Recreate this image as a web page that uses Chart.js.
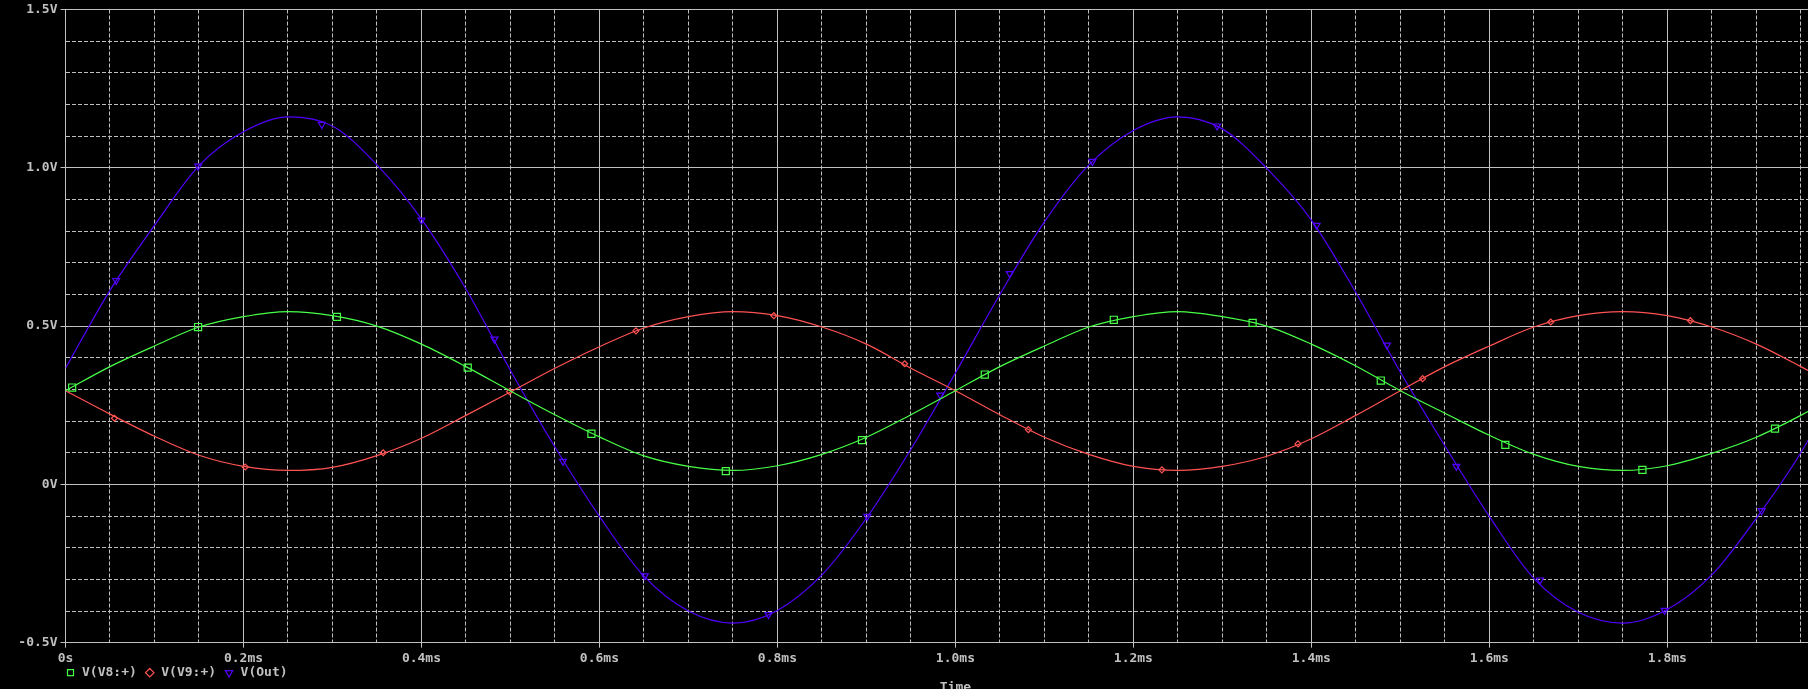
<!DOCTYPE html>
<html>
<head>
<meta charset="utf-8">
<script src="https://cdn.jsdelivr.net/npm/chart.js@4"></script>
<style>
  html, body { margin: 0; padding: 0; background: #000; overflow: hidden; }
  canvas { display: block; }
</style>
</head>
<body>
<canvas id="probe-chart" width="1870" height="726"></canvas>
<script>
// sample times (ms) the curves were read at
const TIME = [0, 0.05, 0.1, 0.15, 0.2, 0.25, 0.3, 0.35, 0.4, 0.45, 0.5,
    0.55, 0.6, 0.65, 0.7, 0.75, 0.8, 0.85, 0.9, 0.95, 1.0,
    1.05, 1.1, 1.15, 1.2, 1.25, 1.3, 1.35, 1.4, 1.45, 1.5,
    1.55, 1.6, 1.65, 1.7, 1.75, 1.8, 1.85, 1.9, 1.95, 2.0];

const V8 = [0.296, 0.372, 0.437, 0.497, 0.530, 0.546, 0.533, 0.500, 0.443, 0.372, 0.295,
    0.220, 0.150, 0.090, 0.057, 0.044, 0.059, 0.095, 0.149, 0.220, 0.296,
    0.372, 0.437, 0.497, 0.530, 0.546, 0.530, 0.500, 0.443, 0.374, 0.296,
    0.225, 0.155, 0.095, 0.057, 0.044, 0.059, 0.098, 0.149, 0.218, 0.296];

const V9 = [0.296, 0.222, 0.152, 0.092, 0.057, 0.044, 0.054, 0.091, 0.146, 0.218, 0.292,
    0.367, 0.435, 0.494, 0.530, 0.546, 0.533, 0.497, 0.443, 0.367, 0.296,
    0.220, 0.149, 0.095, 0.057, 0.044, 0.057, 0.089, 0.144, 0.218, 0.296,
    0.372, 0.437, 0.497, 0.533, 0.546, 0.533, 0.497, 0.443, 0.372, 0.296];

const VOUT = [0.367, 0.613, 0.818, 1.007, 1.114, 1.161, 1.132, 1.009, 0.838, 0.617, 0.360,
    0.118, -0.101, -0.290, -0.400, -0.438, -0.398, -0.286, -0.107, 0.111, 0.352,
    0.600, 0.829, 1.009, 1.118, 1.161, 1.123, 0.998, 0.835, 0.606, 0.355,
    0.122, -0.101, -0.297, -0.404, -0.438, -0.395, -0.286, -0.107, 0.100, 0.355];

// marker positions (ms, V) as plotted on each trace
const V8_MARK_T = [0.0075, 0.149, 0.305, 0.452, 0.591, 0.742, 0.895, 1.033, 1.178, 1.334, 1.478, 1.618, 1.772, 1.921];
const V8_MARK_V = [0.306, 0.497, 0.529, 0.369, 0.160, 0.042, 0.140, 0.347, 0.520, 0.510, 0.328, 0.125, 0.046, 0.176];

const V9_MARK_T = [0.055, 0.202, 0.357, 0.499, 0.641, 0.796, 0.943, 1.082, 1.232, 1.385, 1.525, 1.669, 1.826];
const V9_MARK_V = [0.209, 0.055, 0.100, 0.293, 0.485, 0.533, 0.381, 0.173, 0.046, 0.128, 0.334, 0.513, 0.517];

const VOUT_MARK_T = [0.057, 0.149, 0.288, 0.400, 0.482, 0.559, 0.651, 0.790, 0.901, 0.983,
    1.061, 1.154, 1.294, 1.406, 1.485, 1.563, 1.657, 1.797, 1.906];
const VOUT_MARK_V = [0.644, 1.005, 1.137, 0.835, 0.459, 0.073, -0.289, -0.411, -0.101, 0.282,
    0.666, 1.020, 1.132, 0.818, 0.440, 0.057, -0.302, -0.398, -0.083];

const LABELS = ['V(V8:+)', 'V(V9:+)', 'V(Out)'];
const COLORS = ['rgb(72,255,72)', 'rgb(255,82,82)', 'rgb(84,0,255)'];

const GRID = 'rgb(192,192,192)';
const FONT = {family: "'DejaVu Sans Mono', monospace", size: 13, weight: 'bold', lineHeight: 1};
const NONE = 'rgba(0,0,0,0)';

function toPoints(xs, ys) {
    return xs.map((x, i) => ({x: x, y: ys[i]}));
}

function isMultiple(v, step) {
    const r = v / step;
    return Math.abs(r - Math.round(r)) < 1e-6;
}

function lineDataset(label, color, data, style, rotation) {
    return {
        label: label,
        data: data,
        borderColor: color,
        backgroundColor: NONE,
        borderWidth: 1.2,
        pointRadius: 0,
        pointStyle: style,
        pointRotation: rotation,
        cubicInterpolationMode: 'monotone',
    };
}

function markerDataset(color, data, style, rotation, radius) {
    return {
        data: data,
        showLine: false,
        borderColor: color,
        backgroundColor: NONE,
        pointStyle: style,
        pointRotation: rotation,
        pointRadius: radius,
        pointBorderWidth: 1.2,
    };
}

// the legend row sits between the tick labels and the axis title in the original
const legendOffset = {
    id: 'legendOffset',
    beforeDraw(chart) {
        const legend = chart.legend;
        legend.left = 57.5;
        legend.top = 658.2;
        legend.bottom = legend.top + legend.height;
    }
};

function createProbeChart() {
    const datasets = [
        lineDataset(LABELS[0], COLORS[0], toPoints(TIME, V8), 'rect', 0),
        lineDataset(LABELS[1], COLORS[1], toPoints(TIME, V9), 'rectRot', 0),
        lineDataset(LABELS[2], COLORS[2], toPoints(TIME, VOUT), 'triangle', 180),
        markerDataset(COLORS[0], toPoints(V8_MARK_T, V8_MARK_V), 'rect', 0, 5),
        markerDataset(COLORS[1], toPoints(V9_MARK_T, V9_MARK_V), 'rectRot', 0, 3),
        markerDataset(COLORS[2], toPoints(VOUT_MARK_T, VOUT_MARK_V), 'triangle', 180, 4),
    ];

    new Chart(document.getElementById('probe-chart'), {
        type: 'line',
        data: {datasets: datasets},
        plugins: [legendOffset],
        options: {
            responsive: false,
            animation: false,
            devicePixelRatio: 1,
            events: [],
            layout: {padding: {top: 7, right: 24.7, left: 0, bottom: 0}},
            scales: {
                x: {
                    type: 'linear',
                    position: 'bottom',
                    min: 0,
                    max: 2.0,
                    afterFit: (scale) => { scale.height = 52.3; },
                    title: {
                        display: true,
                        text: 'Time',
                        color: GRID,
                        font: {family: FONT.family, size: 13, weight: 'bold', lineHeight: 1.2},
                        padding: 0,
                    },
                    ticks: {
                        stepSize: 0.2,
                        padding: 4,
                        color: GRID,
                        font: FONT,
                        maxRotation: 0,
                        callback: (v) => v === 0 ? '0s' : v.toFixed(1) + 'ms',
                    },
                    grid: {color: GRID, lineWidth: 1, tickLength: 5, tickColor: GRID},
                    border: {color: GRID},
                },
                xMinor: {
                    type: 'linear',
                    position: 'bottom',
                    min: 0,
                    max: 2.0,
                    afterFit: (scale) => { scale.height = 0; },
                    ticks: {stepSize: 0.05, display: false},
                    grid: {
                        drawTicks: false,
                        color: (ctx) => isMultiple(ctx.tick.value, 0.2) ? NONE : GRID,
                    },
                    border: {display: false, dash: [4, 2]},
                },
                y: {
                    type: 'linear',
                    position: 'left',
                    min: -0.5,
                    max: 1.5,
                    afterFit: (scale) => { scale.width = 65.5; },
                    ticks: {
                        stepSize: 0.5,
                        padding: 3,
                        color: GRID,
                        font: FONT,
                        callback: (v) => v === 0 ? '0V' : v.toFixed(1) + 'V',
                    },
                    grid: {color: GRID, lineWidth: 1, tickLength: 5, tickColor: GRID},
                    border: {color: GRID},
                },
                yMinor: {
                    type: 'linear',
                    position: 'left',
                    min: -0.5,
                    max: 1.5,
                    afterFit: (scale) => { scale.width = 0; },
                    ticks: {stepSize: 0.1, display: false},
                    grid: {
                        drawTicks: false,
                        color: (ctx) => isMultiple(ctx.tick.value, 0.5) ? NONE : GRID,
                    },
                    border: {display: false, dash: [4, 2]},
                },
            },
            plugins: {
                tooltip: {enabled: false},
                legend: {
                    position: 'bottom',
                    align: 'start',
                    fullSize: false,
                    labels: {
                        usePointStyle: true,
                        boxWidth: 10,
                        boxHeight: 6,
                        padding: 8,
                        color: GRID,
                        font: FONT,
                        filter: (item) => item.datasetIndex < 3,
                    },
                },
            },
        },
    });
}

createProbeChart();
</script>
</body>
</html>
